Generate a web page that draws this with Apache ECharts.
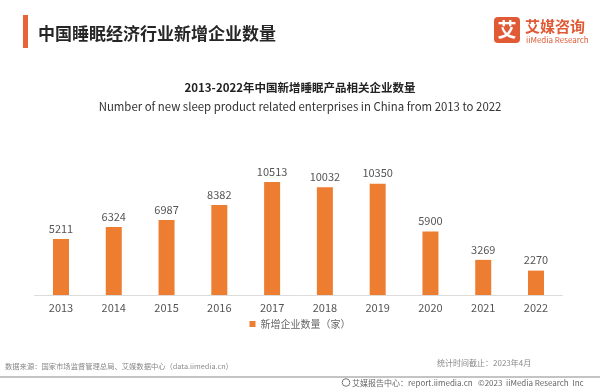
<!DOCTYPE html>
<html>
<head>
<meta charset="utf-8">
<script src="https://cdn.jsdelivr.net/npm/echarts@6/dist/echarts.min.js"></script>
<style>
html,body{margin:0;padding:0;background:#fff;}
#chart{width:600px;height:390px;}
</style>
</head>
<body>
<div id="chart"></div>
<script>
var categories = ['2013','2014','2015','2016','2017','2018','2019','2020','2021','2022'];
var newEnterprises = [5211, 6324, 6987, 8382, 10513, 10032, 10350, 5900, 3269, 2270];
var seriesName = '新增企业数量（家）';

var FONT = '"Noto Sans CJK SC", "Noto Sans", sans-serif';
var chart = echarts.init(document.getElementById('chart'), null, {renderer: 'canvas'});
chart.setOption({
  backgroundColor: '#ffffff',
  animation: false,
  textStyle: {fontFamily: FONT},
  title: [
    {text: '中国睡眠经济行业新增企业数量', left: 33, top: 20,
     textStyle: {fontSize: 17, fontWeight: 'bold', color: '#262626', fontFamily: FONT}},
    {text: '2013-2022年中国新增睡眠产品相关企业数量', left: 'center', top: 77,
     textStyle: {fontSize: 11.5, fontWeight: 'bold', color: '#222', fontFamily: FONT}},
    {text: 'Number of new sleep product related enterprises in China from 2013 to 2022', left: 'center', top: 96,
     textStyle: {fontSize: 11.4, fontWeight: 'normal', color: '#333', fontFamily: FONT}}
  ],
  graphic: [
    {type: 'rect', shape: {x: 23, y: 15, width: 5, height: 33}, style: {fill: '#e8623c'}},
    {type: 'rect', shape: {x: 494, y: 17, width: 26, height: 26, r: 4}, style: {fill: '#e05a36'}},
    {type: 'text', style: {x: 507, y: 30, text: '艾', fill: '#fff', font: 'bold 19px ' + FONT, align: 'center', verticalAlign: 'middle'}},
    {type: 'text', style: {x: 525, y: 26, text: '艾媒咨询', fill: '#e05a36', font: 'bold 15px ' + FONT, align: 'left', verticalAlign: 'middle'}},
    {type: 'text', style: {x: 526, y: 40, text: 'iiMedia Research', fill: '#e05a36', font: '8px ' + FONT, align: 'left', verticalAlign: 'middle'}},
    {type: 'text', style: {x: 5, y: 366, text: '数据来源：国家市场监督管理总局、艾媒数据中心（data.iimedia.cn）', fill: '#888', font: '7.3px ' + FONT, align: 'left', verticalAlign: 'middle'}},
    {type: 'text', style: {x: 437, y: 363, text: '统计时间截止：2023年4月', fill: '#888', font: '8px ' + FONT, align: 'left', verticalAlign: 'middle'}},
    {type: 'line', shape: {x1: 0, y1: 377, x2: 600, y2: 377}, style: {stroke: '#b0b0b0', lineWidth: 1.5}},
    {type: 'circle', shape: {cx: 346, cy: 382.5, r: 3.8}, style: {fill: 'none', stroke: '#777', lineWidth: 1}},
    {type: 'text', style: {x: 352, y: 382.5, text: '艾媒报告中心：report.iimedia.cn   ©2023  iiMedia Research  Inc', fill: '#666', font: '8px ' + FONT, align: 'left', verticalAlign: 'middle'}}
  ],
  legend: {
    data: [seriesName], bottom: 56, left: 'center', icon: 'rect', itemWidth: 6, itemHeight: 6, itemGap: 4,
    textStyle: {fontSize: 10, color: '#666', fontFamily: FONT}
  },
  grid: {left: 34.6, right: 37.6, top: 166, bottom: 95, containLabel: false},
  xAxis: {
    type: 'category', data: categories,
    axisLine: {lineStyle: {color: '#dcdcdc', width: 1}},
    axisTick: {show: false},
    axisLabel: {color: '#555', fontSize: 11, margin: 7, fontFamily: FONT}
  },
  yAxis: {type: 'value', min: 0, max: 12000, show: false, splitLine: {show: false}},
  series: [{
    name: seriesName, type: 'bar', data: newEnterprises, barWidth: 16,
    itemStyle: {color: '#ED7D31'},
    label: {show: true, position: 'top', distance: 5, color: '#555', fontSize: 11, fontFamily: FONT}
  }]
});
</script>
</body>
</html>
